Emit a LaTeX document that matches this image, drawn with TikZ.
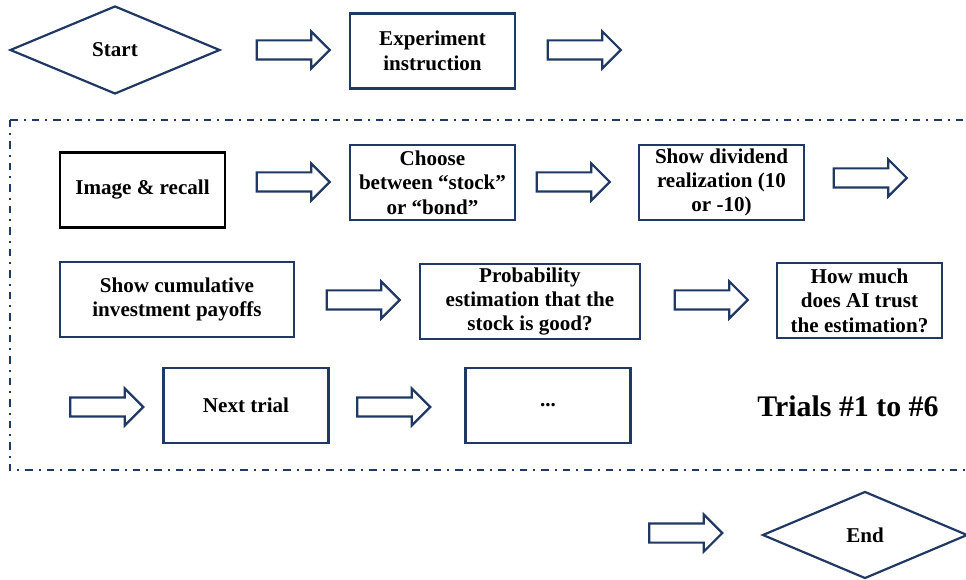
\documentclass[tikz,border=0pt]{standalone}
\usepackage{fontspec}
\setmainfont{Liberation Serif}
\usetikzlibrary{shapes.geometric,shapes.arrows}

\definecolor{navy}{RGB}{31,56,100}

\tikzset{
    kasten/.style={draw=navy,line width=1.25pt,fill=white,align=center,
        minimum width=3.3cm,minimum height=1.5cm,inner sep=1pt,
        font=\fontsize{12}{13.9}\selectfont\bfseries},
    raute/.style={kasten,diamond,minimum width=4.2cm,minimum height=1.76cm},
    pfeil/.style={single arrow,draw=navy,line width=1.25pt,fill=white,
        minimum height=1.46cm,inner sep=0.17cm,single arrow head extend=0.18cm},
    rahmen/.style={draw=navy,line width=1.3pt,dash pattern=on 0.15cm off 0.12cm on 0.04cm off 0.12cm}
}

\begin{document}
\begin{tikzpicture}[x=0.02cm,y=-0.02cm]
    \useasboundingbox (0,0) rectangle (966,580);

    % Rahmen um die Trials
    \draw[rahmen] (10,120) rectangle (975,470);

    % Start und Instruktion
    \node[raute] (start) at (115,50) {Start};
    \node[kasten] (instr) at (432.5,51) {Experiment\\instruction};

    % Erste Zeile
    \node[kasten,draw=black] (recall) at (142.5,190) {Image \& recall};
    \node[kasten] (choose) at (432.5,182.5) {Choose\\between “stock”\\or “bond”};
    \node[kasten] (divid) at (721.5,182.5) {Show dividend\\realization (10\\or -10)};

    % Zweite Zeile
    \node[kasten,minimum width=4.68cm] (payoff) at (177,299.5) {Show cumulative\\investment payoffs};
    \node[kasten,minimum width=4.4cm] (prob) at (530,301.5) {Probability\\estimation that the\\stock is good?};
    \node[kasten] (trust) at (859.5,300.5) {How much\\does AI trust\\the estimation?};

    % Dritte Zeile
    \node[kasten] (next) at (246,405.5) {Next trial};
    \node[kasten] (dots) at (548,405.5) {...};
    \node[font=\fontsize{17}{20}\selectfont\bfseries] (trials) at (848,406) {Trials \#1 to \#6};

    % Ende
    \node[raute,minimum width=4.1cm,minimum height=1.74cm] (ende) at (865,535) {End};

    % Blockpfeile
    \foreach \x/\y [count=\i] in {288.5/50, 579.5/50, 288.5/182, 568.5/182, 865.5/178,
                                  358.5/300, 706.5/300, 102/407, 389/407, 681/533} {
        \node[pfeil] (p\i) at (\x,\y) {};
    }
\end{tikzpicture}
\end{document}
